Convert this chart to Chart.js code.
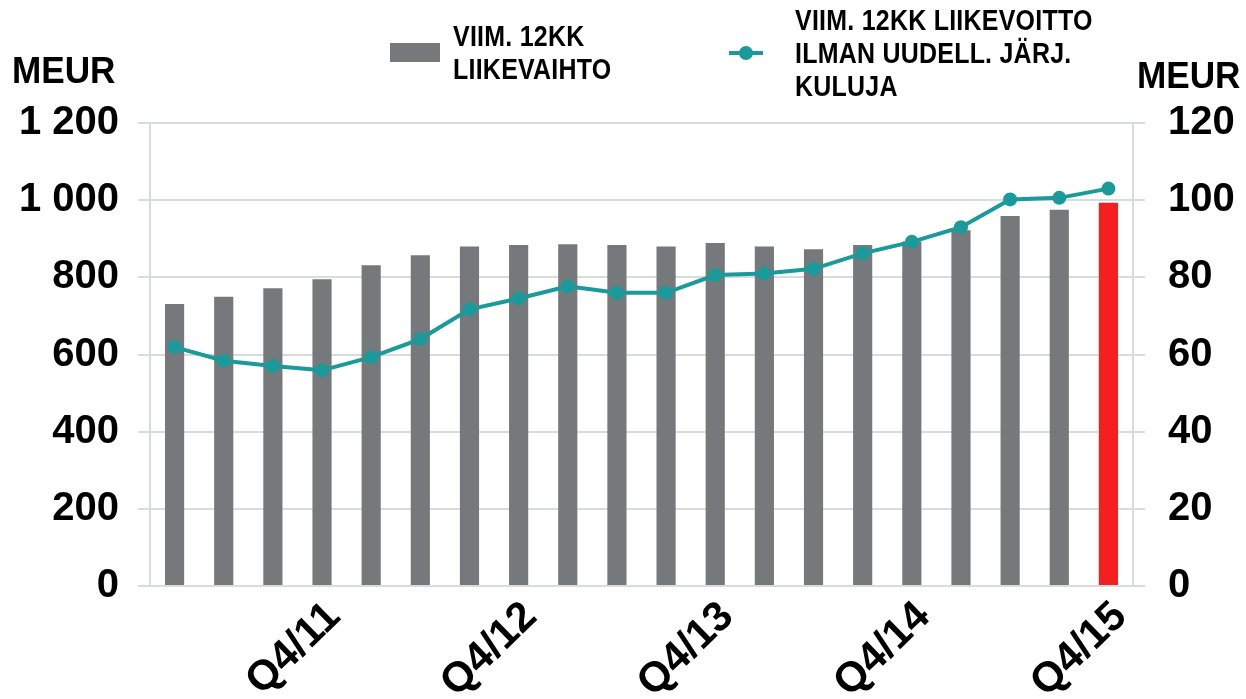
<!DOCTYPE html>
<html>
<head>
<meta charset="utf-8">
<script src="https://cdn.jsdelivr.net/npm/chart.js@4.4.0/dist/chart.umd.min.js"></script>
<style>
  html, body { margin: 0; padding: 0; background: #fff; }
  .wrap { position: relative; width: 1246px; height: 699px; overflow: hidden; }
  .wrap canvas { position: absolute; left: 0; top: 0; }
  .lbl { position: absolute; font-family: "Liberation Sans", Arial, sans-serif;
    font-weight: bold; color: #000; white-space: nowrap; }
  .unit { font-size: 37px; line-height: 37px; transform: scaleX(0.95); transform-origin: left top; }
  .leg { font-size: 29px; line-height: 33px; letter-spacing: 0.3px;
    transform: scaleX(0.86); transform-origin: left top; }
  .swatch { position: absolute; }
</style>
</head>
<body>
<div class="wrap">
  <canvas id="c"></canvas>
  <div class="lbl unit" style="left:12px;top:52px;">MEUR</div>
  <div class="lbl unit" style="left:1137px;top:57px;">MEUR</div>
  <div class="swatch" style="left:390px;top:43px;width:50px;height:19px;background:#76797c;"></div>
  <div class="lbl leg" style="left:453px;top:20px;">VIIM. 12KK<br>LIIKEVAIHTO</div>
  <div class="swatch" style="left:729px;top:51px;width:34px;height:4px;background:#1a9a9a;"></div>
  <div class="swatch" style="left:739px;top:46px;width:14px;height:14px;border-radius:50%;background:#1a9a9a;"></div>
  <div class="lbl leg" style="left:795px;top:4px;">VIIM. 12KK LIIKEVOITTO<br>ILMAN UUDELL. JÄRJ.<br>KULUJA</div>
</div>
<script>
// Rolling 12-month revenue (bars, left axis) and operating profit
// excluding restructuring costs (line, right axis), Q1/11 - Q4/15.

const quarters = [
    'Q1/11', 'Q2/11', 'Q3/11', 'Q4/11',
    'Q1/12', 'Q2/12', 'Q3/12', 'Q4/12',
    'Q1/13', 'Q2/13', 'Q3/13', 'Q4/13',
    'Q1/14', 'Q2/14', 'Q3/14', 'Q4/14',
    'Q1/15', 'Q2/15', 'Q3/15', 'Q4/15'
];
const tickLabels = ['Q4/11', 'Q4/12', 'Q4/13', 'Q4/14', 'Q4/15'];

const revenue = [731, 750, 772, 795, 831, 857, 880, 884, 886, 884,
                 880, 889, 880, 873, 884, 893, 922, 959, 975, 993];
const profit = [61.9, 58.4, 57.0, 55.9, 59.3, 64.0, 71.7, 74.5, 77.7, 76.0,
                76.0, 80.6, 81.0, 82.2, 86.2, 89.2, 93.0, 100.2, 100.6, 103.0];

const GRAY = '#76797c';
const RED = '#f41f1f';
const TEAL = '#1a9a9a';
const GRID = '#d8dddc';
const TICK_FONT = { family: '"Liberation Sans", Arial, sans-serif', size: 40, weight: 'bold' };
const X_FONT = { family: '"Liberation Sans", Arial, sans-serif', size: 42, weight: 'bold' };

function spaced(v) {
    return String(v).replace(/\B(?=(\d{3})+(?!\d))/g, ' ');
}

const barColors = revenue.map(function (v, i) {
    return i === revenue.length - 1 ? RED : GRAY;
});

const canvas = document.getElementById('c');
canvas.width = 1246;
canvas.height = 699;

new Chart(canvas.getContext('2d'), {
    data: {
        labels: quarters,
        datasets: [
            {
                type: 'line',
                label: 'VIIM. 12KK LIIKEVOITTO ILMAN UUDELL. JÄRJ. KULUJA',
                data: profit,
                yAxisID: 'y2',
                borderColor: TEAL,
                backgroundColor: TEAL,
                borderWidth: 4,
                pointRadius: 7,
                pointBackgroundColor: TEAL,
                pointBorderWidth: 0,
                tension: 0,
                order: 0
            },
            {
                type: 'bar',
                label: 'VIIM. 12KK LIIKEVAIHTO',
                data: revenue,
                yAxisID: 'y',
                backgroundColor: barColors,
                barPercentage: 0.39,
                categoryPercentage: 1.0,
                order: 1
            }
        ]
    },
    options: {
        responsive: false,
        animation: false,
        layout: { padding: { top: 123, left: 0, right: 0, bottom: 0 } },
        plugins: {
            legend: { display: false },
            tooltip: { enabled: false }
        },
        scales: {
            x: {
                grid: { display: false, drawTicks: false },
                border: { display: true, color: GRID, width: 2 },
                ticks: {
                    autoSkip: false,
                    minRotation: 44,
                    maxRotation: 44,
                    padding: 6,
                    labelOffset: 12,
                    color: '#000',
                    font: X_FONT,
                    callback: function (v) {
                        const l = this.getLabelForValue(v);
                        return tickLabels.indexOf(l) >= 0 ? l : '';
                    }
                },
                afterFit: function (s) { s.height = 113; }
            },
            y: {
                position: 'left',
                min: 0, max: 1200,
                grid: { color: GRID, lineWidth: 2, tickLength: 12 },
                border: { display: true, color: GRID, width: 2 },
                ticks: {
                    stepSize: 200,
                    padding: 19,
                    color: '#000',
                    font: TICK_FONT,
                    callback: function (v) { return spaced(v); }
                },
                afterFit: function (s) { s.width = 150; }
            },
            y2: {
                position: 'right',
                min: 0, max: 120,
                grid: { drawOnChartArea: false, color: GRID, lineWidth: 2, tickLength: 12 },
                border: { display: true, color: GRID, width: 2 },
                ticks: {
                    stepSize: 20,
                    padding: 23,
                    color: '#000',
                    font: TICK_FONT
                },
                afterFit: function (s) { s.width = 113; }
            }
        }
    }
});
</script>
</body>
</html>
